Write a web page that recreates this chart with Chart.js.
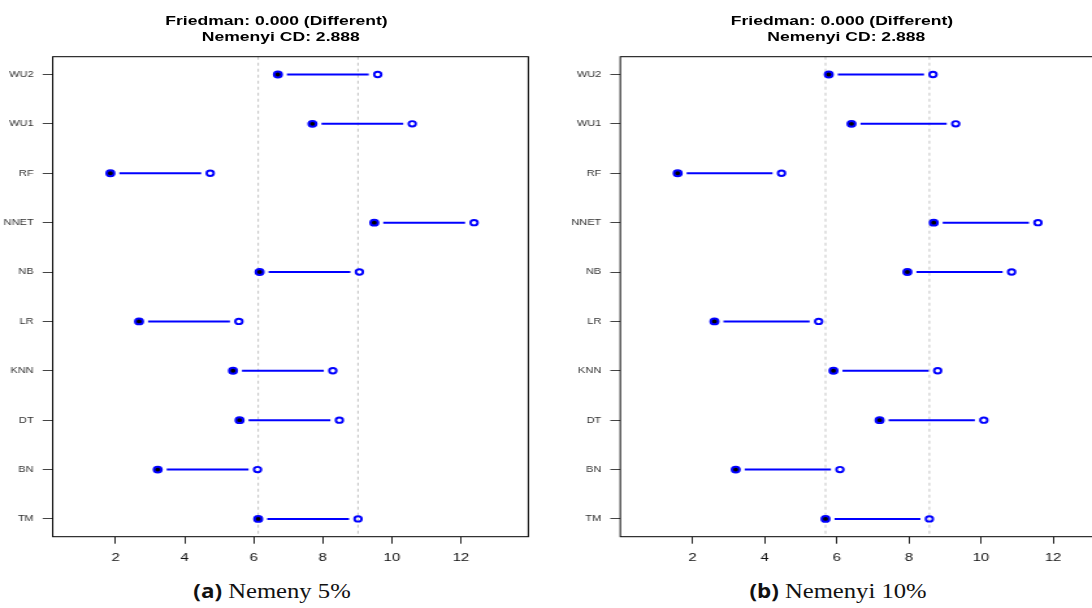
<!DOCTYPE html>
<html>
<head>
<meta charset="utf-8">
<script src="https://cdn.jsdelivr.net/npm/chart.js@4.4.1/dist/chart.umd.min.js"></script>
<style>
  html, body { margin: 0; padding: 0; background: #fff; }
  body { position: relative; width: 1092px; height: 608px; overflow: hidden; }
  .panel { position: absolute; top: 0; height: 608px; transform-origin: 0 0; }
  .panel canvas { position: absolute; left: 0; top: 0; }
  .title { position: absolute; top: 12.8px; width: 320px; text-align: center; white-space: nowrap;
           font: bold 13.5px/16.6px "Liberation Sans", Arial, sans-serif; color: #000; }
  .title span { display: block; }
  .title span + span { position: relative; left: 3.3px; }
  .cap { position: absolute; top: 577px; width: 400px; text-align: center; white-space: nowrap;
         font: 22px/26px "Liberation Serif", "Times New Roman", serif; color: #111; transform-origin: 50% 50%; }
  .cap b { font: bold 20px "Open Sans", "DejaVu Sans", sans-serif; }
</style>
</head>
<body>
<div class="cap" id="capA"><b>(a)</b> Nemeny 5%</div>
<div class="cap" id="capB"><b>(b)</b> Nemenyi 10%</div>
<script>
// methods from bottom (y = 1) to top (y = 10)
const methods = ['TM', 'BN', 'DT', 'KNN', 'LR', 'NB', 'NNET', 'RF', 'WU1', 'WU2'];
const yTicks = [1, 2, 3, 4, 5, 6, 7, 8, 9, 10];
const xTicks = [2, 4, 6, 8, 10, 12];
const titleLines = ['Friedman: 0.000 (Different)', 'Nemenyi CD: 2.888'];

// (a) Nemenyi 5%: mean rank (filled) and rank + CD (open)
const rank5 = [6.13, 3.22, 5.59, 5.40, 2.68, 6.17, 9.49, 1.85, 7.70, 6.70];
const upper5 = [9.02, 6.11, 8.48, 8.29, 5.57, 9.06, 12.38, 4.74, 10.59, 9.59];
const ref5 = [6.13, 9.02];

// (b) Nemenyi 10%
const rank10 = [5.69, 3.20, 7.19, 5.91, 2.61, 7.96, 8.69, 1.59, 6.41, 5.78];
const upper10 = [8.57, 6.09, 10.08, 8.80, 5.50, 10.85, 11.58, 4.47, 9.30, 8.67];
const ref10 = [5.69, 8.57];

// the source figure is stretched sideways, so each panel is drawn narrow and scaled
const KP = 1.3;
const KC = 1.12;
const H = 575;            // canvas height
const TOP = 56.7;         // plot box top
const BOTTOM = 536.7;     // plot box bottom
const GAP = 9 / KP;       // gap between points and segment
const FONT = '"Liberation Sans", Arial, sans-serif';

const marks = {
  id: 'marks',
  beforeDatasetsDraw(chart, args, o) {
    const { ctx, chartArea: a, scales: { x, y } } = chart;
    ctx.save();
    ctx.beginPath();
    ctx.rect(a.left, a.top, a.width, a.height);
    ctx.clip();
    ctx.strokeStyle = '#c4c4c4';
    ctx.lineWidth = 1;
    ctx.setLineDash([3, 3]);
    o.refs.forEach(v => {
      const px = x.getPixelForValue(v);
      ctx.beginPath();
      ctx.moveTo(px, a.top);
      ctx.lineTo(px, a.bottom);
      ctx.stroke();
    });
    ctx.setLineDash([]);
    ctx.strokeStyle = '#0000ff';
    ctx.lineWidth = 2;
    o.lo.forEach((v, i) => {
      const x1 = x.getPixelForValue(v) + GAP;
      const x2 = x.getPixelForValue(o.hi[i]) - GAP;
      const py = y.getPixelForValue(yTicks[i]);
      ctx.beginPath();
      ctx.moveTo(x1, py);
      ctx.lineTo(x2, py);
      ctx.stroke();
    });
    ctx.restore();
  },
  afterDraw(chart) {
    const { ctx, chartArea: a } = chart;
    ctx.save();
    ctx.strokeStyle = '#000';
    ctx.lineWidth = 1;
    ctx.strokeRect(a.left, a.top, a.width, a.height);
    ctx.restore();
  }
};

function makePanel(p) {
  const wrap = document.createElement('div');
  wrap.className = 'panel';
  wrap.style.left = p.left + 'px';
  wrap.style.width = p.width / KP + 'px';
  wrap.style.transform = `scaleX(${KP})`;
  document.body.appendChild(wrap);

  const t = document.createElement('div');
  t.className = 'title';
  t.style.left = ((p.titleX - p.left) / KP - 160) + 'px';
  t.innerHTML = titleLines.map(s => `<span>${s}</span>`).join('');
  wrap.appendChild(t);

  const cv = document.createElement('canvas');
  cv.width = Math.round(p.width / KP);
  cv.height = H;
  wrap.appendChild(cv);

  const areaL = (p.areaL - p.left) / KP;
  const areaR = (p.areaR - p.left) / KP;

  new Chart(cv, {
    type: 'scatter',
    data: {
      datasets: [
        {
          data: p.rank.map((v, i) => ({ x: v, y: yTicks[i] })),
          pointRadius: 2.9, pointBorderWidth: 2,
          pointBackgroundColor: '#000', pointBorderColor: '#0000ff'
        },
        {
          data: p.upper.map((v, i) => ({ x: v, y: yTicks[i] })),
          pointRadius: 2.7, pointBorderWidth: 1.9,
          pointBackgroundColor: 'rgba(0,0,0,0)', pointBorderColor: '#0000ff'
        }
      ]
    },
    options: {
      responsive: false,
      animation: false,
      events: [],
      layout: { padding: { top: TOP, left: 0, right: cv.width - areaR, bottom: 0 } },
      plugins: {
        legend: { display: false },
        tooltip: { enabled: false },
        marks: { refs: p.refs, lo: p.rank, hi: p.upper }
      },
      scales: {
        x: {
          type: 'linear', min: p.xMin, max: p.xMax,
          afterBuildTicks: s => { s.ticks = xTicks.map(v => ({ value: v })); },
          afterFit: s => { s.height = H - BOTTOM; },
          grid: { drawOnChartArea: false, tickLength: 7, color: '#222' },
          border: { display: false },
          ticks: { font: { family: FONT, size: 11.5 }, color: '#111', padding: 7, maxRotation: 0, autoSkip: false }
        },
        y: {
          type: 'linear', min: 0.64, max: 10.36,
          afterBuildTicks: s => { s.ticks = yTicks.map(v => ({ value: v })); },
          afterFit: s => { s.width = areaL; },
          grid: { drawOnChartArea: false, tickLength: 10 / KP, color: '#444' },
          border: { display: false },
          ticks: { callback: v => methods[v - 1], font: { family: FONT, size: 8.5 }, color: '#333', padding: 9 / KP, autoSkip: false }
        }
      }
    },
    plugins: [marks]
  });
}

makePanel({ left: 0, width: 546, areaL: 52.7, areaR: 528.3, xMin: 0.18, xMax: 13.95, titleX: 276.5,
            rank: rank5, upper: upper5, refs: ref5 });
makePanel({ left: 546, width: 580, areaL: 620.3, areaR: 620.3 + 36.4 * 13.8, xMin: 0, xMax: 13.8, titleX: 842,
            rank: rank10, upper: upper10, refs: ref10 });

// captions, centred under each panel
[['capA', 272], ['capB', 838]].forEach(([id, cx]) => {
  const el = document.getElementById(id);
  el.style.left = (cx - 200) + 'px';
  el.style.transform = `scaleX(${KC})`;
});
</script>
</body>
</html>
